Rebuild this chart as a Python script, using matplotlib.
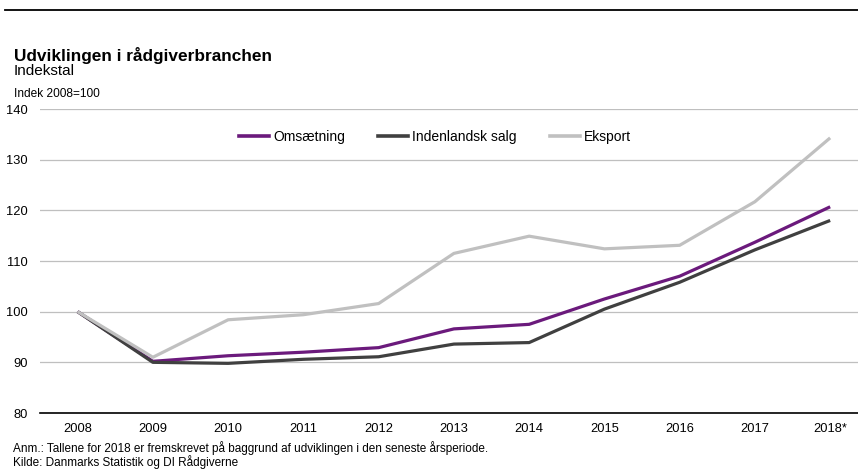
import matplotlib.pyplot as plt
from matplotlib.lines import Line2D

plt.rcParams['font.family'] = ['Liberation Sans', 'DejaVu Sans']

# Data (index 2008=100)
years = ['2008', '2009', '2010', '2011', '2012', '2013', '2014', '2015', '2016', '2017', '2018*']
omsaetning = [100, 90.2, 91.3, 92.0, 92.9, 96.6, 97.5, 102.5, 107.0, 113.7, 120.7]
indenlandsk = [100, 90.0, 89.8, 90.6, 91.1, 93.6, 93.9, 100.5, 105.8, 112.2, 118.0]
eksport = [100, 91.0, 98.4, 99.4, 101.6, 111.5, 114.9, 112.4, 113.1, 121.7, 134.3]

series_names = ['Omsætning', 'Indenlandsk salg', 'Eksport']
colors = ['#6b1a7c', '#404040', '#c0c0c0']

fig = plt.figure(figsize=(8.58, 4.70), dpi=100)
ax = fig.add_axes([40 / 858, 1 - 413 / 470, 818 / 858, 304 / 470])

x = list(range(len(years)))
for vals, name, col in zip([omsaetning, indenlandsk, eksport], series_names, colors):
    ax.plot(x, vals, color=col, lw=2.3, label=name, solid_capstyle='butt')

ax.set_ylim(80, 140)
ax.set_yticks(range(80, 141, 10))
ax.set_xlim(-0.5, 10.37)
ax.set_xticks(x)
ax.set_xticklabels(years)
ax.grid(axis='y', color='#bfbfbf', lw=0.9)
ax.set_axisbelow(True)
for s in ['top', 'right', 'left']:
    ax.spines[s].set_visible(False)
ax.spines['bottom'].set_color('black')
ax.spines['bottom'].set_linewidth(1.2)
ax.tick_params(axis='both', length=0, labelsize=9.3, colors='black')
ax.tick_params(axis='y', pad=9)
ax.tick_params(axis='x', pad=7)

handles = [Line2D([0], [0], color=c, lw=2.6) for c in colors]
ax.legend(handles, series_names, loc='center', bbox_to_anchor=(0.483, 0.908), ncol=3,
          frameon=False, fontsize=10, handlelength=2.15, columnspacing=2.4, handletextpad=0.3)

# top rule
fig.add_artist(Line2D([5 / 858, 1.0], [1 - 10 / 470, 1 - 10 / 470], color='black', lw=1.3))

fig.text(14 / 858, 1 - 61 / 470, 'Udviklingen i rådgiverbranchen', fontsize=12.4,
         fontweight='bold', va='baseline')
fig.text(14 / 858, 1 - 75 / 470, 'Indekstal', fontsize=11, va='baseline')
fig.text(14 / 858, 1 - 97 / 470, 'Indek 2008=100', fontsize=8.6, va='baseline')

fig.text(13 / 858, 1 - 452 / 470,
         'Anm.: Tallene for 2018 er fremskrevet på baggrund af udviklingen i den seneste årsperiode.',
         fontsize=8.5, va='baseline')
fig.text(13 / 858, 1 - 466 / 470, 'Kilde: Danmarks Statistik og DI Rådgiverne',
         fontsize=8.5, va='baseline')

fig.savefig('out.png', dpi=100)
